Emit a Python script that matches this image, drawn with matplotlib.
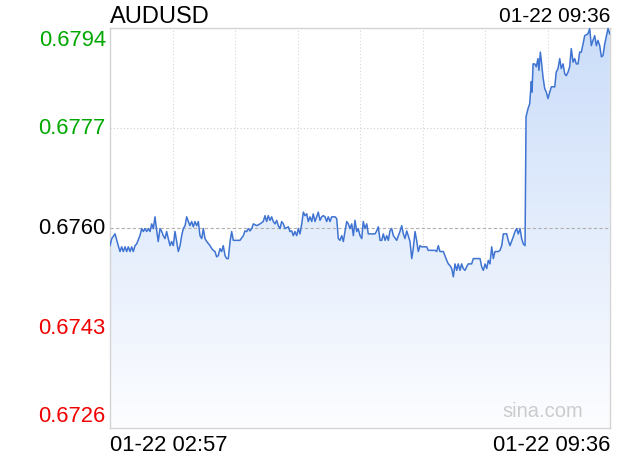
import matplotlib
matplotlib.use("Agg")
import matplotlib.pyplot as plt
import numpy as np
from matplotlib.patches import Polygon

plt.rcParams['font.family'] = ['Liberation Sans', 'DejaVu Sans']

symbol = "AUDUSD"
start_label = "01-22 02:57"
end_label = "01-22 09:36"
prev_close = 0.6760
y_ticks = [0.6726, 0.6743, 0.6760, 0.6777, 0.6794]
y_tick_labels = ["0.6726", "0.6743", "0.6760", "0.6777", "0.6794"]
total_minutes = 399

# minutes since 02:57
minutes = [
    0, 1.4, 4.0, 6.6, 8.0, 9.3, 10.6, 12.0, 13.3, 14.6, 16.0, 17.3, 18.6, 20.0, 21.3, 23.9,
    25.3, 26.6, 27.9, 29.3, 30.6, 31.9, 33.3, 34.6, 35.9, 37.3, 38.5, 39.9, 41.3, 42.5, 43.9,
    45.2, 46.5, 47.9, 49.2, 50.5, 51.9, 53.2, 54.5, 55.9, 57.2, 58.5, 59.9, 61.2, 62.5, 63.8,
    65.2, 66.5, 67.8, 69.2, 70.5, 71.8, 73.2, 74.5, 75.8, 77.2, 79.8, 81.2, 82.4, 83.8, 85.1,
    86.4, 87.8, 89.1, 90.4, 91.8, 93.1, 94.4, 95.8, 97.1, 98.4, 103.7, 106.4, 107.7, 109.1,
    110.4, 111.7, 113.1, 114.4, 117.1, 119.7, 122.3, 123.7, 125.0, 126.3, 127.7, 129.0, 130.3,
    131.7, 133.0, 134.3, 135.7, 137.0, 138.3, 139.7, 142.3, 143.6, 145.0, 146.3, 147.6, 149.0,
    150.3, 151.6, 153.0, 154.3, 155.6, 157.0, 158.2, 159.6, 161.0, 162.2, 163.6, 164.9, 166.2,
    167.6, 168.9, 170.2, 171.6, 172.9, 174.2, 175.6, 176.9, 179.6, 180.9, 182.2, 183.5, 184.9,
    186.2, 187.5, 188.9, 190.2, 191.5, 192.9, 194.2, 195.5, 196.9, 198.1, 199.5, 200.9, 202.1,
    203.5, 204.9, 206.1, 211.5, 212.8, 214.1, 215.5, 216.8, 218.1, 219.5, 220.8, 222.1, 223.4,
    224.8, 226.1, 228.8, 230.1, 231.4, 232.8, 234.1, 235.4, 236.8, 238.0, 239.4, 240.8, 242.0,
    243.4, 244.7, 246.0, 247.4, 248.7, 252.7, 254.0, 259.4, 260.7, 262.0, 263.3, 266.0, 268.7,
    270.0, 271.3, 272.7, 274.0, 275.3, 276.7, 277.9, 279.3, 280.6, 281.9, 283.3, 284.6, 285.9,
    288.6, 289.9, 295.3, 296.6, 297.9, 299.3, 300.6, 301.9, 303.2, 304.6, 305.9, 307.2, 309.9,
    311.2, 312.6, 313.9, 316.6, 317.8, 319.2, 321.8, 323.2, 324.5, 325.8, 327.2, 328.5, 329.8,
    331.2, 332.0, 333.6, 334.9, 336.2, 336.8, 337.6, 338.9, 340.2, 341.5, 342.3, 343.4, 344.2,
    345.5, 346.9, 348.2, 349.5, 350.9, 352.2, 354.9, 356.1, 357.5, 358.9, 360.1, 361.5, 362.9,
    364.1, 365.5, 366.8, 368.1, 369.5, 370.8, 372.1, 373.5, 374.8, 376.1, 377.5, 378.8, 381.4,
    382.8, 384.1, 385.4, 386.8, 388.1, 389.4, 390.8, 392.1, 393.4, 394.8, 396.0, 397.4, 398.8,
]

prices = [
    0.67570, 0.67582, 0.67590, 0.67570, 0.67560, 0.67568, 0.67560, 0.67568, 0.67560, 0.67568,
    0.67560, 0.67568, 0.67560, 0.67570, 0.67573, 0.67587,
    0.67599, 0.67594, 0.67599, 0.67594, 0.67599, 0.67594, 0.67607, 0.67599, 0.67619, 0.67595,
    0.67577, 0.67599, 0.67594, 0.67587, 0.67582,
    0.67594, 0.67582, 0.67570, 0.67577, 0.67570, 0.67594, 0.67577, 0.67560, 0.67570, 0.67587,
    0.67599, 0.67604, 0.67619, 0.67611, 0.67604,
    0.67611, 0.67602, 0.67611, 0.67604, 0.67611, 0.67587, 0.67582, 0.67599, 0.67582, 0.67577,
    0.67570, 0.67565, 0.67562, 0.67560, 0.67551,
    0.67553, 0.67565, 0.67560, 0.67570, 0.67553, 0.67548, 0.67548, 0.67577, 0.67594, 0.67579,
    0.67579, 0.67587, 0.67595, 0.67594,
    0.67599, 0.67595, 0.67599, 0.67607, 0.67604, 0.67607, 0.67611, 0.67621, 0.67611, 0.67621,
    0.67613, 0.67619, 0.67611,
    0.67607, 0.67613, 0.67604, 0.67599, 0.67611, 0.67607, 0.67599, 0.67602, 0.67594, 0.67595,
    0.67587, 0.67594, 0.67587,
    0.67599, 0.67590, 0.67607, 0.67627, 0.67621, 0.67624, 0.67611, 0.67619, 0.67611, 0.67624,
    0.67611, 0.67619, 0.67627,
    0.67613, 0.67619, 0.67621, 0.67619, 0.67611, 0.67619, 0.67611, 0.67619, 0.67619, 0.67616,
    0.67582, 0.67579, 0.67587,
    0.67577, 0.67594, 0.67611, 0.67607, 0.67599, 0.67607, 0.67587, 0.67613, 0.67594, 0.67599,
    0.67587, 0.67582, 0.67611,
    0.67599, 0.67607, 0.67590, 0.67590, 0.67595, 0.67602, 0.67579, 0.67579, 0.67590, 0.67579,
    0.67587, 0.67579, 0.67595,
    0.67599, 0.67587, 0.67579, 0.67587, 0.67594, 0.67604, 0.67590, 0.67582, 0.67595, 0.67587,
    0.67577, 0.67548, 0.67565,
    0.67594, 0.67579, 0.67560, 0.67570, 0.67568, 0.67568, 0.67562, 0.67562, 0.67560, 0.67570,
    0.67560, 0.67560, 0.67545,
    0.67539, 0.67536, 0.67531, 0.67517, 0.67539, 0.67528, 0.67539, 0.67528, 0.67539, 0.67531,
    0.67528, 0.67534, 0.67539,
    0.67539, 0.67548, 0.67548, 0.67534, 0.67528, 0.67539, 0.67531, 0.67545, 0.67539, 0.67568,
    0.67548, 0.67560, 0.67560,
    0.67562, 0.67570, 0.67590, 0.67590, 0.67579, 0.67570, 0.67585, 0.67594, 0.67599, 0.67590,
    0.67599, 0.67582, 0.67573,
    0.67570, 0.67789, 0.67803, 0.67811, 0.67849, 0.67831, 0.67879, 0.67879, 0.67874, 0.67888,
    0.67868, 0.67899, 0.67885,
    0.67857, 0.67837, 0.67831, 0.67820, 0.67831, 0.67840, 0.67840, 0.67865, 0.67871, 0.67888,
    0.67871, 0.67879, 0.67862,
    0.67859, 0.67865, 0.67874, 0.67905, 0.67882, 0.67888, 0.67879, 0.67879, 0.67899, 0.67899,
    0.67913, 0.67927, 0.67930,
    0.67939, 0.67910, 0.67919, 0.67927, 0.67910, 0.67919, 0.67910, 0.67891, 0.67893, 0.67913,
    0.67925, 0.67939, 0.67930,
]

W, H = 620, 460
fig = plt.figure(figsize=(W / 100, H / 100), dpi=100)
fig.patch.set_facecolor('white')
ax = fig.add_axes([110 / W, 1 - 429 / H, 500 / W, 400 / H])
ax.set_xlim(0, total_minutes)
ax.set_ylim(y_ticks[0], y_ticks[-1])
ax.set_xticks([])
ax.set_yticks([])
for s in ax.spines.values():
    s.set_color('#d4d4d4')
    s.set_linewidth(1.0)

# grid
for i in range(1, 8):
    ax.axvline(total_minutes * i / 8, color='#d6d6d6', lw=0.8, ls=(0, (1, 2)), zorder=1)
for v in [y_ticks[1], y_ticks[3]]:
    ax.axhline(v, color='#d0d0d0', lw=0.8, ls=(0, (1, 2)), zorder=1)
ax.axhline(prev_close, color='#b0b0b0', lw=0.8, ls=(0, (3, 2)), zorder=3)

# gradient fill under line
x = np.array(minutes)
y = np.array(prices)
grad = np.linspace(0, 1, 256).reshape(-1, 1)
top_c = np.array([203, 221, 249]) / 255
bot_c = np.array([252, 253, 255]) / 255
img = top_c[None, None, :] * (1 - grad[:, :, None]) + bot_c[None, None, :] * grad[:, :, None]
im = ax.imshow(img, extent=[0, total_minutes, y_ticks[0], y_ticks[-1]], aspect='auto',
               origin='upper', zorder=2)
verts = np.column_stack([np.concatenate([[x[0]], x, [x[-1]]]),
                         np.concatenate([[y_ticks[0]], y, [y_ticks[0]]])])
clip = Polygon(verts, closed=True, transform=ax.transData, facecolor='none', edgecolor='none')
ax.add_patch(clip)
im.set_clip_path(clip)

ax.plot(x, y, color='#3f74d2', lw=1.1, zorder=4)

# y labels
fs = 15.8
colors = ['#f00000', '#f00000', '#000000', '#00a800', '#00a800']
offsets = [12, 0, 0, 0, -12]
for v, lab, c, off in zip(y_ticks, y_tick_labels, colors, offsets):
    ax.annotate(lab, xy=(0, v), xycoords=('axes fraction', 'data'),
                xytext=(-3, off * 0.72), textcoords='offset points',
                ha='right', va='center', color=c, fontsize=fs)

fig.text(110 / W, 1 - 17 / H, symbol, ha='left', va='center', fontsize=17, color='#000000')
fig.text(610 / W, 1 - 17 / H, end_label, ha='right', va='center', fontsize=15, color='#000000')
fig.text(110 / W, 1 - 446 / H, start_label, ha='left', va='center', fontsize=fs, color='#000000')
fig.text(610 / W, 1 - 446 / H, end_label, ha='right', va='center', fontsize=fs, color='#000000')
ax.text(0.946, 0.0425, "sina.com", transform=ax.transAxes, ha='right', va='center',
        fontsize=14.5, color='#cccccc', zorder=5)

fig.savefig('out.png', dpi=100, facecolor='white')
